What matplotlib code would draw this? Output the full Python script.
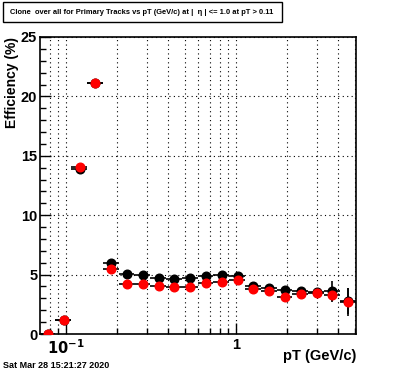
import numpy as np
import matplotlib
matplotlib.use("Agg")
import matplotlib.pyplot as plt
from matplotlib.patches import Rectangle
from matplotlib.ticker import LogLocator, NullFormatter, FixedLocator, MultipleLocator

plt.rcParams['font.family'] = ['Liberation Sans', 'DejaVu Sans']

# pT bin edges (GeV/c), log bins
pt_edges = [0.070, 0.0867, 0.1074, 0.1330, 0.1648, 0.2041, 0.2528, 0.3131, 0.3878, 0.4803,
            0.5949, 0.7369, 0.9127, 1.1305, 1.4002, 1.7343, 2.148, 2.661, 3.296, 4.082, 5.056]

eff_black = [0.0, 1.2, 13.86, 21.15, 5.95, 5.02, 4.97, 4.69, 4.63, 4.71,
             4.88, 4.94, 4.91, 4.01, 3.87, 3.68, 3.62, 3.50, 3.62, 2.75]
err_black = [0.0, 0.1, 0.15, 0.15, 0.15, 0.1, 0.1, 0.1, 0.1, 0.1,
             0.1, 0.1, 0.1, 0.15, 0.15, 0.2, 0.25, 0.35, 0.85, 1.1]
eff_red = [0.0, 1.18, 14.08, 21.15, 5.44, 4.18, 4.18, 4.01, 3.93, 3.93,
           4.32, 4.35, 4.55, 3.79, 3.59, 3.11, 3.37, 3.45, 3.26, 2.69]
err_red = [0.0, 0.1, 0.15, 0.15, 0.15, 0.1, 0.1, 0.1, 0.1, 0.1,
           0.1, 0.1, 0.1, 0.15, 0.15, 0.2, 0.25, 0.35, 0.6, 1.15]

title = "Clone  over all for Primary Tracks vs pT (GeV/c) at |  \u03b7 | <= 1.0 at pT > 0.11"

edges = np.array(pt_edges)
xc = 0.5 * (edges[:-1] + edges[1:])
xerr = [xc - edges[:-1], edges[1:] - xc]

fig = plt.figure(figsize=(3.96, 3.72), dpi=100)
ax = fig.add_axes([40/396, 1-334/372, 316/396, 297/372])

for eff, err, col in [(eff_black, err_black, 'black'), (eff_red, err_red, 'red')]:
    ax.errorbar(xc, eff, xerr=xerr, yerr=err, fmt='o', color='black', mfc=col, mec=col,
                ms=6.2, elinewidth=1.2, capsize=0, zorder=3)

ax.set_xscale('log')
ax.set_xlim(0.0703, 5.08)
ax.set_ylim(0, 25)

ax.xaxis.set_major_locator(FixedLocator([0.1, 1]))
ax.xaxis.set_minor_locator(LogLocator(base=10, subs=np.arange(2, 10)))
ax.xaxis.set_minor_formatter(NullFormatter())
ax.set_xticklabels(['$\\mathbf{10^{-1}}$', '1'])
ax.yaxis.set_major_locator(MultipleLocator(5))
ax.yaxis.set_minor_locator(MultipleLocator(1))

ax.grid(True, which='both', axis='x', linestyle=(0, (1, 3)), color='black', lw=0.8)
ax.grid(True, which='major', axis='y', linestyle=(0, (1, 3)), color='black', lw=0.8)
ax.set_axisbelow(True)

ax.tick_params(which='both', direction='in', top=False, right=False, width=1)
ax.tick_params(which='major', length=8, labelsize=10.5, pad=3)
ax.tick_params(axis='y', which='major', pad=2)
ax.tick_params(which='minor', length=4)
for lab in ax.get_xticklabels() + ax.get_yticklabels():
    lab.set_fontweight('bold')
for s in ax.spines.values():
    s.set_linewidth(1.2)

fig.text(12/396, 1-37/372, 'Efficiency (%)', rotation=90, ha='center', va='top',
         fontsize=10, fontweight='bold')
fig.text(356/396, 1-356/372, 'pT (GeV/c)', ha='right', va='center',
         fontsize=10.5, fontweight='bold')
fig.text(3/396, 1-366/372, 'Sat Mar 28 15:21:27 2020', ha='left', va='center',
         fontsize=6.5, fontweight='bold')

fig.patches.append(Rectangle((3/396, 1-22/372), 279/396, 20/372, transform=fig.transFigure,
                             fc='white', ec='black', lw=1))
fig.text(142/396, 1-12/372, title, ha='center', va='center', fontsize=5.4, fontweight='bold')

fig.savefig('out.png', dpi=100)
